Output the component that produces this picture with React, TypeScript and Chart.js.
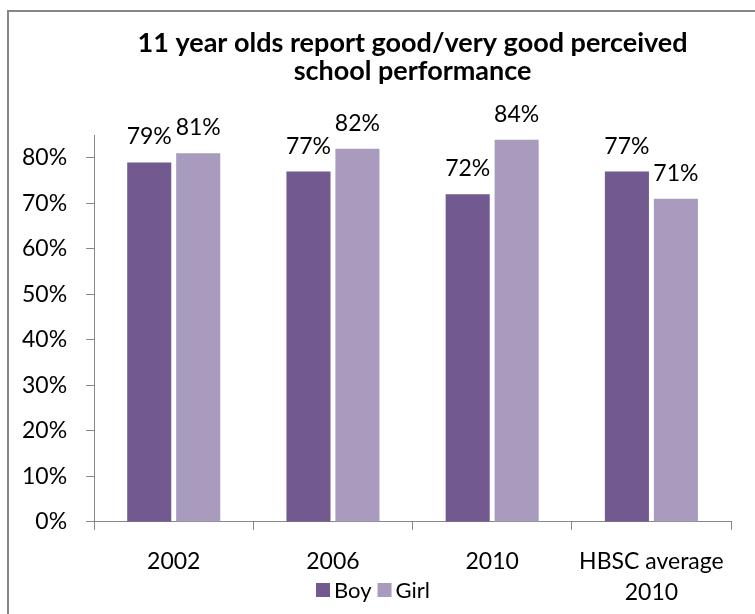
import React, { useEffect, useRef } from "react";
import { Chart, registerables } from "chart.js";

Chart.register(...registerables);

const titleLines = ["11 year olds report good/very good perceived", "school performance"];
const categories = [["2002"], ["2006"], ["2010"], ["HBSC average", "2010"]];
const seriesNames = ["Boy", "Girl"];
const boyValues = [79, 77, 72, 77];
const girlValues = [81, 82, 84, 71];
const seriesColors = ["#72598F", "#A99BBE"];
const yMin = 0;
const yMax = 85;
const yStep = 10;

const FONT = "Lato";

const barLabelPlugin = {
  id: "barLabels",
  afterDatasetsDraw(chart: any) {
    const ctx = chart.ctx;
    ctx.save();
    ctx.font = `23px ${FONT}`;
    ctx.fillStyle = "#000";
    ctx.textAlign = "center";
    ctx.textBaseline = "alphabetic";
    chart.data.datasets.forEach((ds: any, i: number) => {
      const meta = chart.getDatasetMeta(i);
      meta.data.forEach((bar: any, j: number) => {
        ctx.fillText(`${ds.data[j]}%`, bar.x, bar.y - 18);
      });
    });
    ctx.restore();
  },
};

const legendPlugin = {
  id: "bottomLegend",
  afterDraw(chart: any) {
    const ctx = chart.ctx;
    ctx.save();
    ctx.font = `22px ${FONT}`;
    ctx.textBaseline = "middle";
    ctx.textAlign = "left";
    const box = 14;
    const gap = 4;
    const itemGap = 6;
    const items = chart.data.datasets.map((ds: any) => ({
      label: ds.label,
      color: ds.backgroundColor,
      w: box + gap + ctx.measureText(ds.label).width,
    }));
    const total = items.reduce((a: number, it: any) => a + it.w, 0) + itemGap * (items.length - 1);
    let x = chart.width / 2 - 9 - total / 2;
    const y = chart.height - 24;
    items.forEach((it: any) => {
      ctx.fillStyle = it.color;
      ctx.fillRect(x, y - box / 2, box, box);
      ctx.fillStyle = "#000";
      ctx.fillText(it.label, x + box + gap, y + 1);
      x += it.w + itemGap;
    });
    ctx.restore();
  },
};

export default function App() {
  const ref = useRef<HTMLCanvasElement | null>(null);

  useEffect(() => {
    if (!ref.current) return;
    const chart = new Chart(ref.current, {
      type: "bar",
      data: {
        labels: categories as any,
        datasets: [
          {
            label: seriesNames[0],
            data: boyValues,
            backgroundColor: seriesColors[0],
            categoryPercentage: 0.615,
            barPercentage: 0.9,
          },
          {
            label: seriesNames[1],
            data: girlValues,
            backgroundColor: seriesColors[1],
            categoryPercentage: 0.615,
            barPercentage: 0.9,
          },
        ],
      },
      options: {
        responsive: false,
        animation: false,
        devicePixelRatio: 1,
        layout: { padding: { left: -6, right: 24, top: 2, bottom: -10 } },
        plugins: {
          title: {
            display: true,
            fullSize: false,
            text: titleLines,
            color: "#000",
            font: { family: FONT, size: 27, weight: "bold", lineHeight: 1.04 },
            padding: { top: 15, bottom: 50 },
          },
          legend: { display: false },
          tooltip: { enabled: false },
        },
        scales: {
          x: {
            border: { color: "#868686", width: 1 },
            grid: { drawOnChartArea: false, drawTicks: true, tickLength: 8, color: "#868686", offset: true },
            ticks: {
              color: "#000",
              font: { family: FONT, size: 23, lineHeight: 1.35 },
              padding: 16,
              maxRotation: 0,
              autoSkip: false,
            },
          },
          y: {
            min: yMin,
            max: yMax,
            border: { color: "#868686", width: 1 },
            grid: { drawOnChartArea: false, drawTicks: true, tickLength: 8, color: "#868686" },
            ticks: {
              stepSize: yStep,
              includeBounds: false,
              color: "#000",
              padding: 19,
              font: { family: FONT, size: 23 },
              callback: (v: any) => `${v}%`,
            },
          },
        },
      },
      plugins: [barLabelPlugin, legendPlugin],
    });
    return () => chart.destroy();
  }, []);

  return (
    <div>
      <div
        style={{
          position: "fixed",
          left: 7,
          top: 10,
          width: 760,
          height: 620,
          border: "2px solid #878787",
          boxSizing: "border-box",
          background: "#fff",
        }}
      />
      <canvas
        ref={ref}
        width={746}
        height={602}
        style={{ position: "fixed", left: 9, top: 12, width: 746, height: 602 }}
      />
    </div>
  );
}
